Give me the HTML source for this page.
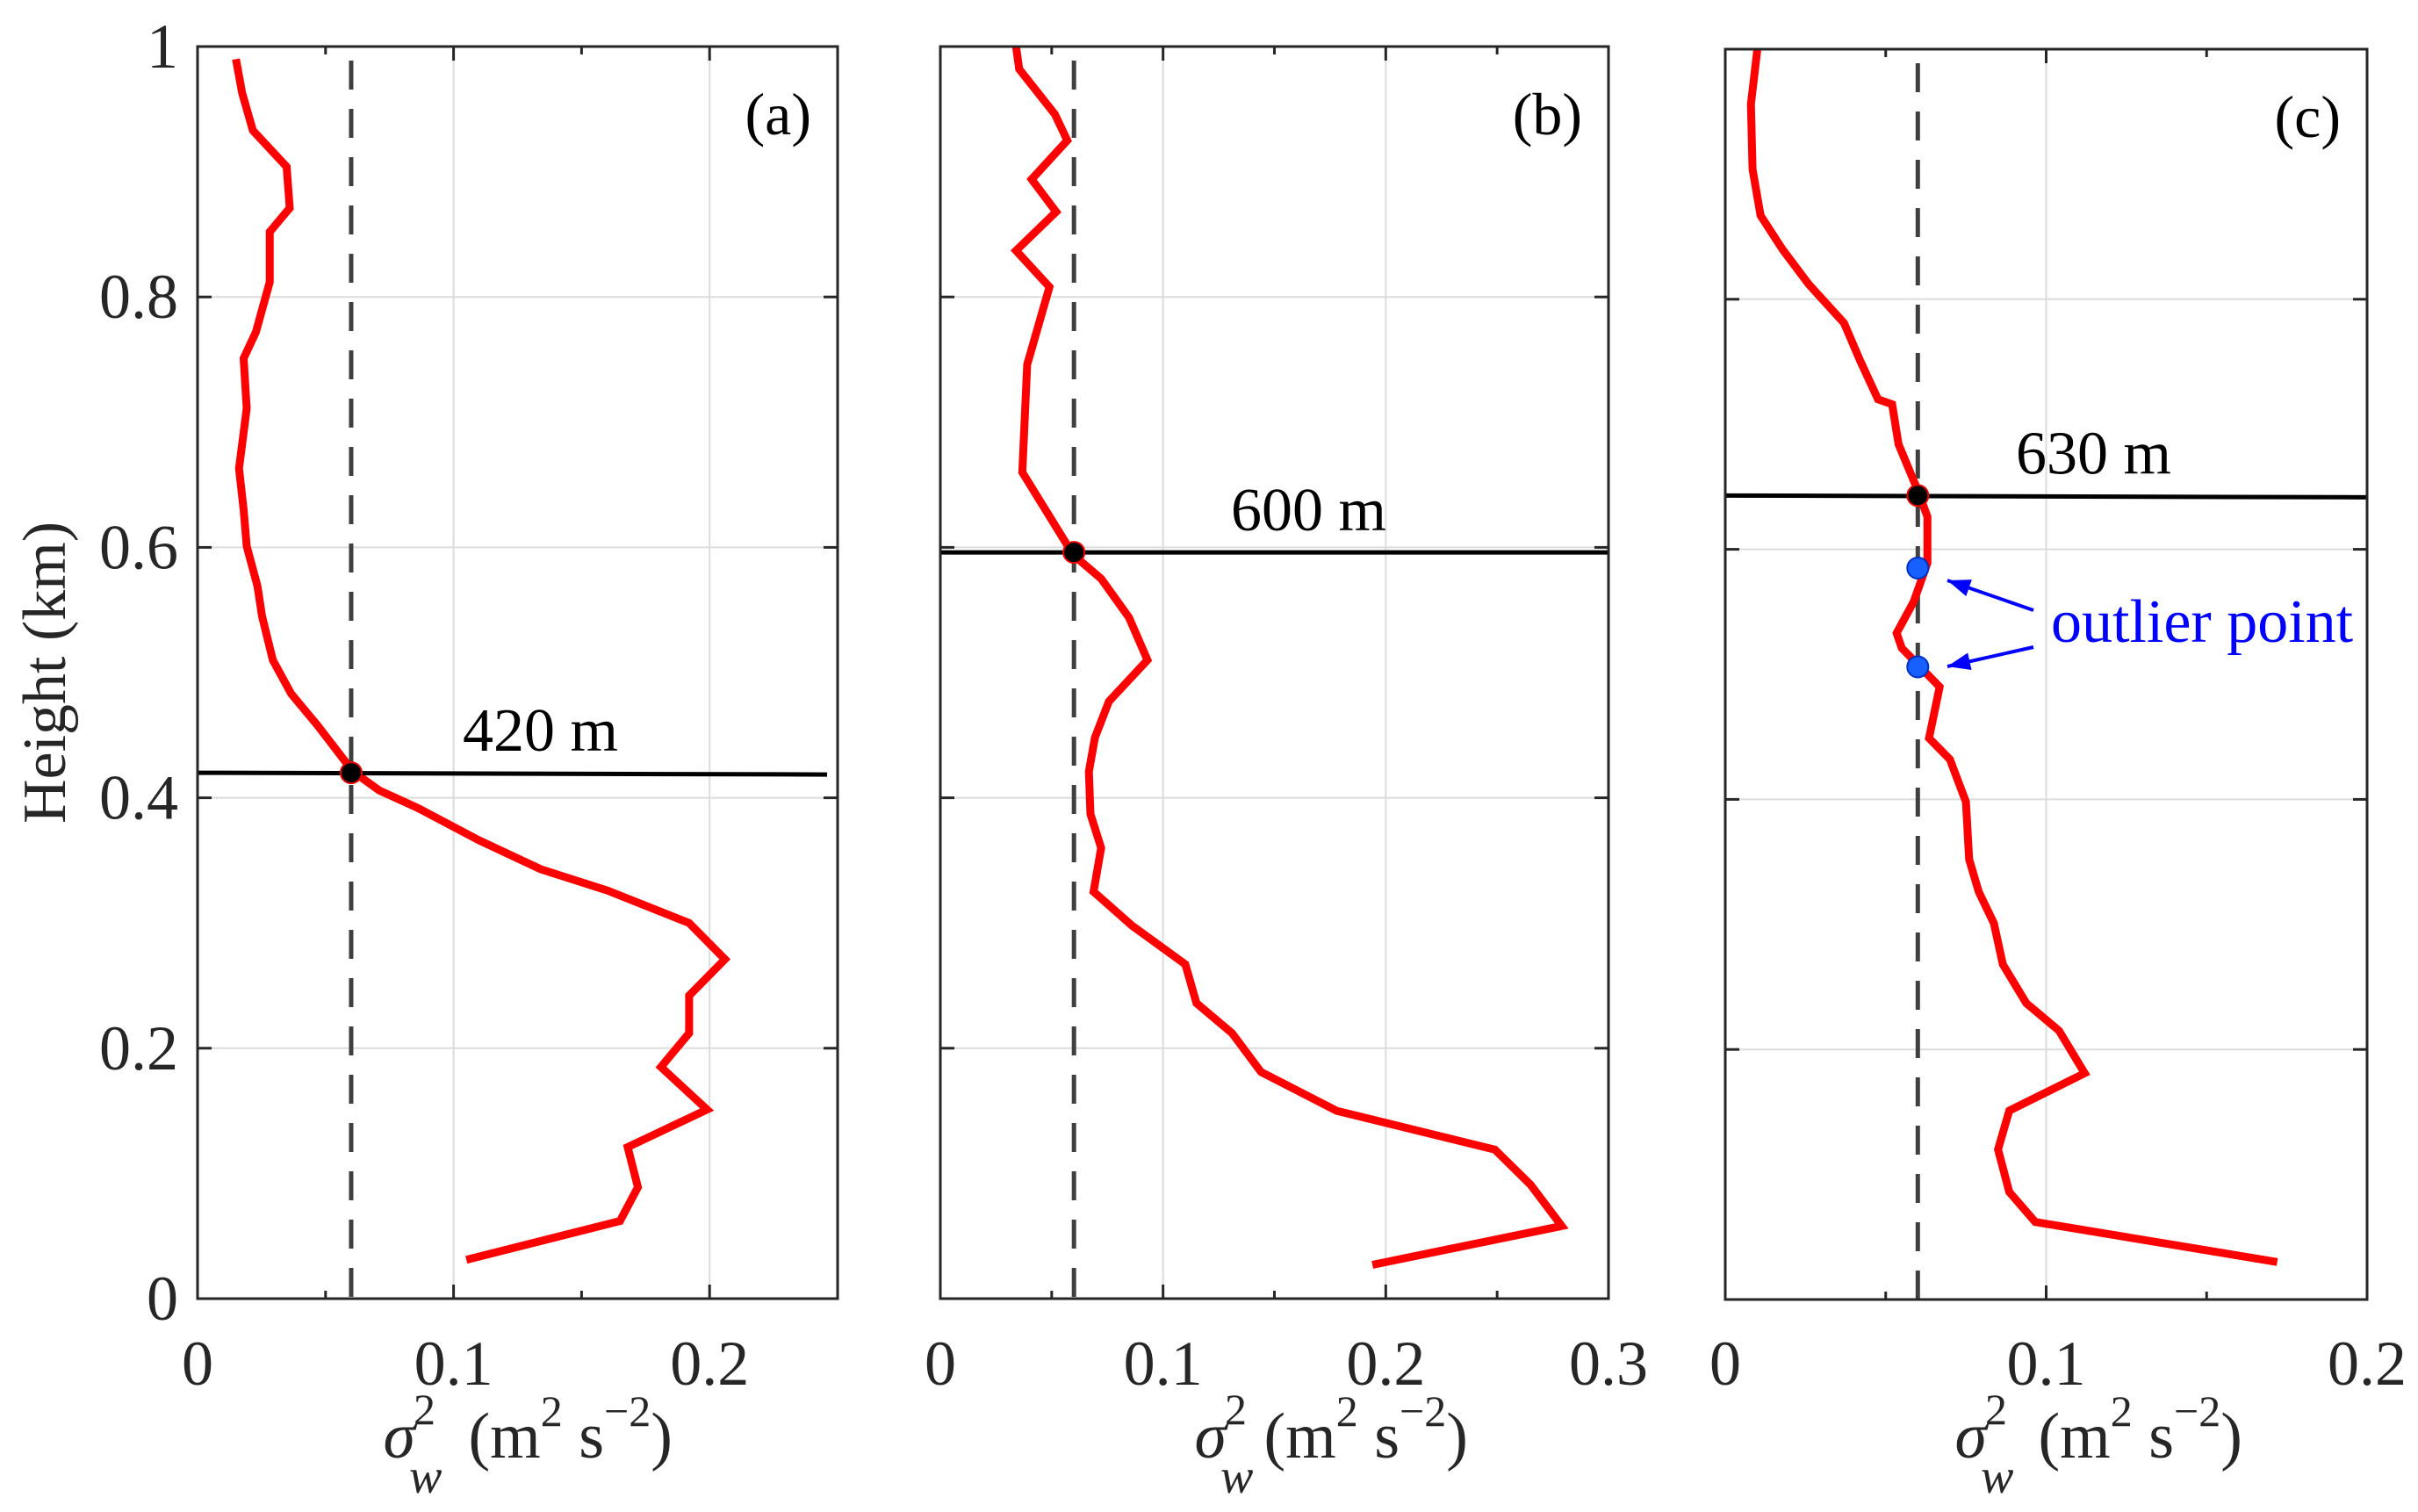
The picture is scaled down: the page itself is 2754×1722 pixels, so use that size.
<!DOCTYPE html>
<html><head><meta charset="utf-8">
<style>
html,body{margin:0;padding:0;background:#fff;}
svg{display:block;font-family:"Liberation Serif",serif;}
</style></head>
<body>
<svg id="chart" width="2754" height="1722" viewBox="0 0 2754 1722" xmlns="http://www.w3.org/2000/svg"></svg>
<script>
// ---- data ----
const heightsA = [0.990,0.963,0.933,0.904,0.871,0.852,0.812,0.772,0.751,0.711,0.663,0.630,0.601,0.569,0.545,0.510,0.483,0.458,0.421,0.406,0.392,0.366,0.343,0.326,0.300,0.271,0.242,0.212,0.185,0.151,0.121,0.089,0.062,0.031];
const sigmaA = [0.015,0.0174,0.0216,0.0348,0.036,0.0282,0.0282,0.0228,0.018,0.0192,0.0162,0.018,0.0192,0.0234,0.0252,0.0294,0.0366,0.0468,0.0607,0.0709,0.0859,0.110,0.134,0.160,0.192,0.206,0.192,0.192,0.181,0.199,0.168,0.172,0.165,0.105];
const heightsB = [1.0,0.982,0.946,0.925,0.894,0.868,0.837,0.808,0.746,0.660,0.594,0.575,0.544,0.510,0.477,0.448,0.421,0.387,0.360,0.325,0.298,0.267,0.236,0.212,0.181,0.150,0.119,0.091,0.058,0.027];
const sigmaB = [0.034,0.0354,0.0514,0.057,0.041,0.052,0.034,0.049,0.039,0.0368,0.0597,0.0722,0.0847,0.093,0.0757,0.0694,0.0667,0.0674,0.0722,0.0688,0.086,0.110,0.115,0.131,0.144,0.178,0.249,0.265,0.279,0.194];
const heightsC = [1.0,0.956,0.904,0.867,0.840,0.812,0.781,0.751,0.720,0.716,0.684,0.647,0.626,0.589,0.558,0.533,0.521,0.509,0.490,0.449,0.432,0.398,0.352,0.326,0.301,0.268,0.237,0.215,0.181,0.151,0.120,0.086,0.062,0.030];
const sigmaC = [0.010,0.0080,0.0085,0.011,0.0178,0.026,0.037,0.042,0.0476,0.052,0.054,0.060,0.063,0.063,0.0587,0.0534,0.055,0.0596,0.0668,0.0635,0.070,0.075,0.076,0.079,0.0837,0.0865,0.0938,0.104,0.112,0.0885,0.085,0.0885,0.0966,0.172];
const blhHeights = [0.42,0.596,0.643];
const blhLabels = ["420 m","600 m","630 m"];
const threshold = 0.06;
const outlierHeights = [0.585,0.506];
const yTicks = [0,0.2,0.4,0.6,0.8,1];
const yTickLabels = ["0","0.2","0.4","0.6","0.8","1"];
const xTicksA = [0,0.1,0.2];
const xTicksB = [0,0.1,0.2,0.3];
const xTicksC = [0,0.1,0.2];
const xMaxes = [0.25,0.3,0.2];
const panelLetters = ["(a)","(b)","(c)"];

const NS="http://www.w3.org/2000/svg";
const svg=document.getElementById('chart');
function mk(tag,attrs,parent){const e=document.createElementNS(NS,tag);for(const k in attrs)e.setAttribute(k,attrs[k]);(parent||svg).appendChild(e);return e;}

const panels=[
 {x0:225,x1:954,y0:53,y1:1479,h:heightsA,s:sigmaA,xt:xTicksA,name:'a',sig:-153,par:-56,lbl:527},
 {x0:1071,x1:1832,y0:53,y1:1479,h:heightsB,s:sigmaB,xt:xTicksB,name:'b',sig:-91,par:-12,lbl:1402},
 {x0:1965,x1:2696,y0:56,y1:1480,h:heightsC,s:sigmaC,xt:xTicksC,name:'c',sig:-104,par:-9,lbl:2296}
];

panels.forEach((p,i)=>{
  const xmax=xMaxes[i];
  const X=v=>p.x0+(v/xmax)*(p.x1-p.x0);
  const Y=v=>p.y1-v*(p.y1-p.y0);
  const g=mk('g',{});
  
  
  for(let v=0.1;v<xmax-1e-9;v+=0.1){const l=mk('line',{x1:X(v),x2:X(v),y1:p.y0,y2:p.y1,stroke:'#dcdcdc','stroke-width':2},g);}
  yTicks.forEach(v=>{if(v>0&&v<1){const l=mk('line',{x1:p.x0,x2:p.x1,y1:Y(v),y2:Y(v),stroke:'#dcdcdc','stroke-width':2},g);}});
  for(let k=0;k*0.05<=xmax+1e-9;k++){const v=k*0.05;const len=(k%2==0)?16:9;
    mk('line',{x1:X(v),x2:X(v),y1:p.y1,y2:p.y1-len,stroke:'#262626','stroke-width':3},g);
    mk('line',{x1:X(v),x2:X(v),y1:p.y0,y2:p.y0+len,stroke:'#262626','stroke-width':3},g);}
  yTicks.forEach(v=>{mk('line',{x1:p.x0,x2:p.x0+16,y1:Y(v),y2:Y(v),stroke:'#262626','stroke-width':3},g);
    mk('line',{x1:p.x1,x2:p.x1-16,y1:Y(v),y2:Y(v),stroke:'#262626','stroke-width':3},g);});
  const d=mk('line',{x1:X(threshold),x2:X(threshold),y1:p.y0+16,y2:p.y1,stroke:'#404040','stroke-width':5,'stroke-dasharray':'33 22'},g);
  
  const pts=p.h.map((h,j)=>X(p.s[j])+','+Y(h)).join(' ');
  const pl=mk('polyline',{points:pts,fill:'none',stroke:'#ff0000','stroke-width':9,'stroke-linejoin':'miter'},g);
  
  const bl=mk('line',{x1:p.x0,x2:p.x1-(i==0?12:0),y1:Y(blhHeights[i]),y2:Y(blhHeights[i])-(i==1?0:-2),stroke:'#000','stroke-width':5},g);
  
  const dot=mk('circle',{cx:X(threshold),cy:Y(blhHeights[i]),r:12,fill:'#000',stroke:'#e00','stroke-width':2},g);
  
  const t=mk('text',{x:p.lbl,y:Y(blhHeights[i])-25,'font-size':70,fill:'#000'},g);t.textContent=blhLabels[i];
  
  const pt=mk('text',{x:p.x1-30,y:p.y0+100,'font-size':68,'text-anchor':'end'},g);pt.textContent=panelLetters[i];
  
  const fr=mk('rect',{x:p.x0,y:p.y0,width:p.x1-p.x0,height:p.y1-p.y0,fill:'none',stroke:'#262626','stroke-width':3},g);
  
  p.xt.forEach(v=>{const tl=mk('text',{x:X(v),y:1577,'font-size':72,'text-anchor':'middle',fill:'#262626'},g);tl.textContent=String(v);
    });
  const cx=(p.x0+p.x1)/2;
  const xt=mk('g',{},g);
  
  const s1=mk('text',{x:cx+p.sig,y:1660,'font-size':74,fill:'#262626'},xt);
  s1.innerHTML='<tspan font-style="italic">σ</tspan><tspan dy="-38" dx="-2" font-size="50">2</tspan><tspan dy="78" dx="-30" font-size="56" font-style="italic">w</tspan>';
  const s2=mk('text',{x:cx+p.par,y:1660,'font-size':74,fill:'#262626'},xt);
  s2.innerHTML='(m<tspan dy="-36" font-size="50">2</tspan><tspan dy="36"> s</tspan><tspan dy="-36" font-size="50">−2</tspan><tspan dy="36">)</tspan>';
  if(i==0){
    yTicks.forEach((v,j)=>{const tl=mk('text',{x:203,y:Y(v)+24,'font-size':72,'text-anchor':'end',fill:'#262626'},g);tl.textContent=yTickLabels[j];
      });
  }
  if(i==2){
    outlierHeights.forEach(h=>{const c=mk('circle',{cx:X(threshold),cy:Y(h),r:12,fill:'#1560ff',stroke:'#0030c0','stroke-width':2},g);
      });
    const ot=mk('text',{x:2336,y:731,'font-size':70,fill:'#0000ff'},g);ot.textContent='outlier point';
    
    [[2316,695,2218,661],[2316,737,2218,759]].forEach(a=>{
      const ar=mk('g',{},g);
      mk('line',{x1:a[0],y1:a[1],x2:a[2],y2:a[3],stroke:'#0000ff','stroke-width':4},ar);
      const ang=Math.atan2(a[3]-a[1],a[2]-a[0]);const L=26,W=10;
      const bx=a[2]-L*Math.cos(ang),by=a[3]-L*Math.sin(ang);
      mk('polygon',{points:`${a[2]},${a[3]} ${bx-W*Math.sin(ang)},${by+W*Math.cos(ang)} ${bx+W*Math.sin(ang)},${by-W*Math.cos(ang)}`,fill:'#0000ff'},ar);
    });
  }
});
const yl=mk('text',{x:0,y:0,'font-size':70,'text-anchor':'middle',fill:'#262626',transform:'translate(74,766) rotate(-90)'});
yl.textContent='Height (km)';

</script>
</body></html>
